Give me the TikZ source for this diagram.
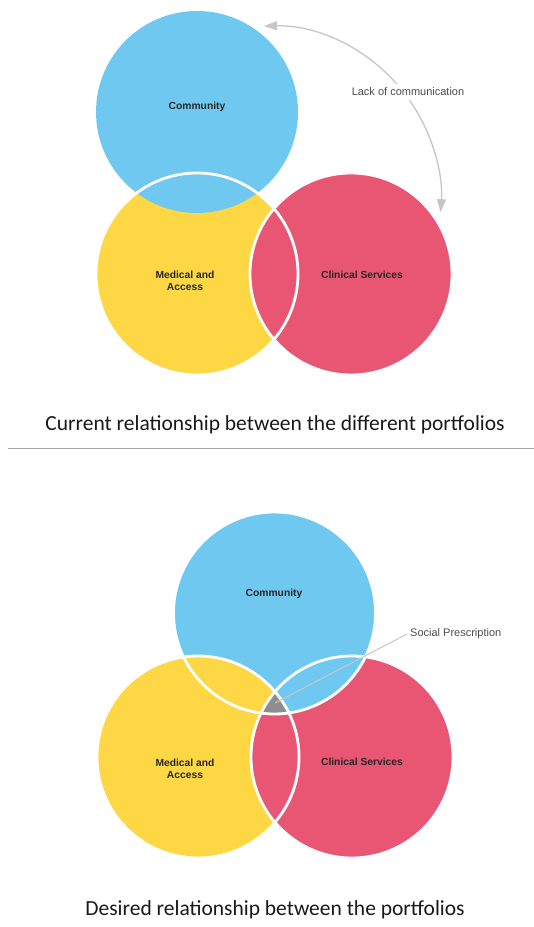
\documentclass[tikz,border=0pt]{standalone}
\usepackage{fontspec}
\setmainfont{Carlito}
\newfontfamily\labelfont{Liberation Sans}
\usetikzlibrary{arrows.meta}

\definecolor{commblue}{RGB}{110,200,240}
\definecolor{medyellow}{RGB}{253,216,68}
\definecolor{clinred}{RGB}{233,86,116}
\definecolor{socgray}{RGB}{142,142,142}

\tikzset{
  circlabel/.style={font=\labelfont\bfseries\fontsize{10.3}{12.5}\selectfont,text=black!85,align=center},
  note/.style={font=\labelfont\fontsize{11}{13}\selectfont,text=black!70},
  caption/.style={font=\fontsize{21.5}{24}\selectfont,text=black!90},
  ring/.style={draw=white,line width=2.8pt},
}

\begin{document}
\begin{tikzpicture}[x=1pt,y=1pt]
\useasboundingbox (0,0) rectangle (534,927);
% current relationship
\coordinate(m1) at(197,653);
\coordinate(c1) at(197,815);
\coordinate(s1) at(351,653);
\fill[medyellow](m1) circle[radius=101];
\fill[commblue](c1) circle[radius=101];
\fill[clinred](s1) circle[radius=101];
\draw[ring](m1) circle[radius=101];
\draw[ring](s1) circle[radius=101];
\node[circlabel](v1) at(197,820){Community};
\node[circlabel](v2) at(185,646){Medical and\\Access};
\node[circlabel](v3) at(362,652){Clinical Services};
\draw[gray!45,line width=1.3pt,{Triangle[length=13pt,width=9pt]}-{Triangle[length=13pt,width=9pt]}]
  (267,727) ++(91:174) arc[start angle=91,end angle=-4,radius=174];
\node[note,fill=white,inner sep=4pt](lack) at(408,835){Lack of communication};
\node[caption](cap1) at(275,502){Current relationship between the different portfolios};
% divider
\coordinate(d1) at(8,478.5);
\coordinate(d2) at(534,478.5);
\draw[gray!70,line width=1pt](d1)--(d2);
% desired relationship
\coordinate(c2) at(274.5,314);
\coordinate(m2) at(198,170);
\coordinate(s2) at(352,170);
\fill[commblue](c2) circle[radius=101];
\fill[clinred](s2) circle[radius=101];
\fill[medyellow](m2) circle[radius=101];
\begin{scope}
  \clip(c2) circle[radius=101];
  \fill[commblue](s2) circle[radius=101];
\end{scope}
\begin{scope}
  \clip(s2) circle[radius=101];
  \fill[clinred](m2) circle[radius=101];
\end{scope}
\begin{scope}
  \clip(c2) circle[radius=101];
  \clip(m2) circle[radius=101];
  \fill[socgray](s2) circle[radius=101];
\end{scope}
\draw[ring](c2) circle[radius=101];
\draw[ring](m2) circle[radius=101];
\draw[ring](s2) circle[radius=101];
\node[circlabel](w1) at(274,333){Community};
\node[circlabel](w2) at(185,158){Medical and\\Access};
\node[circlabel](w3) at(362,165){Clinical Services};
\coordinate(sp) at(275,224);
\node[note,anchor=west,inner sep=3pt](soc) at(407,293){Social Prescription};
\draw[gray!45,line width=1pt](sp)--(soc.west);
\node[caption](cap2) at(275,17){Desired relationship between the portfolios};
\end{tikzpicture}
\end{document}
